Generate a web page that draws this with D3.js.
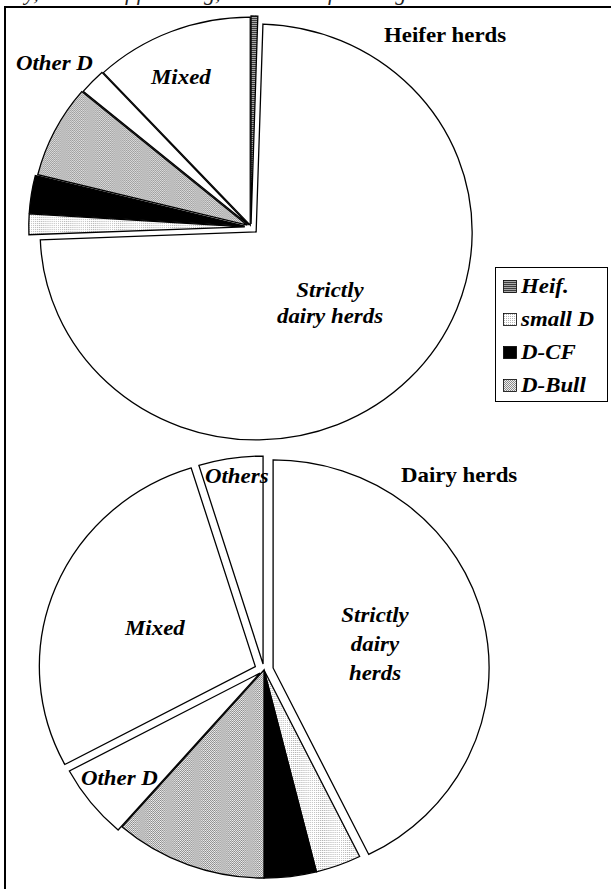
<!DOCTYPE html>
<html>
<head>
<meta charset="utf-8">
<script src="https://cdn.jsdelivr.net/npm/d3@7/dist/d3.min.js"></script>
<style>
  body { margin: 0; background: #fff; }
  svg { display: block; }
</style>
</head>
<body>
<svg width="611" height="889"></svg>
<script>
// shares (%) per herd type, clockwise from 12 o'clock
const categories = ["Heif.", "Strictly dairy herds", "small D", "D-CF", "D-Bull", "Other D", "Mixed", "Others"];
const heiferShares = [0.5, 73.9, 1.6, 2.9, 7.2, 2.0, 11.9, 0];
const dairyShares = [0, 42.7, 3.4, 3.9, 11.4, 5.8, 28.0, 4.8];
const legendItems = ["Heif.", "small D", "D-CF", "D-Bull"];
const pieTitles = ["Heifer herds", "Dairy herds"];
const captionTail = "dairy, CF = calf fattening, Bull = bull fattening.";

const serif = "Liberation Serif, DejaVu Serif, serif";

const svg = d3.select("svg");
const defs = svg.append("defs");

// fill patterns (Excel style)
function pattern(id, w, h, bg, dots) {
    const p = defs.append("pattern")
        .attr("id", id)
        .attr("patternUnits", "userSpaceOnUse")
        .attr("width", w).attr("height", h);
    p.append("rect").attr("width", w).attr("height", h).attr("fill", bg);
    dots.forEach(([x, y, pw, ph, c]) => p.append("rect")
        .attr("x", x).attr("y", y).attr("width", pw).attr("height", ph).attr("fill", c));
}
pattern("p-heif", 2, 2, "#a8a8a8", [[0, 0, 2, 1, "#3c3c3c"]]);
pattern("p-small", 2, 2, "#ffffff", [[0, 0, 1, 1, "#b4b4b4"]]);
pattern("p-bull", 2, 2, "#f0f0f0", [[0, 0, 1, 1, "#8a8a8a"], [1, 1, 1, 1, "#8a8a8a"]]);

const fills = {
    "Heif.": "url(#p-heif)",
    "Strictly dairy herds": "#fff",
    "small D": "url(#p-small)",
    "D-CF": "#000",
    "D-Bull": "url(#p-bull)",
    "Other D": "#fff",
    "Mixed": "#fff",
    "Others": "#fff"
};

// frame round the figure (right and bottom edges fall outside the crop)
svg.append("rect")
    .attr("x", 5).attr("y", 7).attr("width", 700).attr("height", 1000)
    .attr("fill", "none").attr("stroke", "#000").attr("stroke-width", 2);

// caption line above the frame, cut by the top edge as in the source
svg.append("text")
    .attr("x", -12).attr("y", -0.5)
    .style("font-family", serif)
    .style("font-size", "22px").style("font-style", "italic")
    .attr("fill", "#222")
    .text(captionTail);

const ry = 208, rx = 216;
const pie = d3.pie().sort(null).value(d => d.value);
const arc = d3.arc().innerRadius(0).outerRadius(ry);

function drawPie(values, cx, cy, explode) {
    const data = categories.map((c, i) => ({ cat: c, value: values[i] }));
    const g = svg.append("g")
        .attr("transform", `translate(${cx},${cy}) scale(${rx / ry},1)`);
    g.selectAll("path")
        .data(pie(data).filter(d => d.value > 0))
        .join("path")
        .attr("transform", d => {
            const a = (d.startAngle + d.endAngle) / 2;
            const k = explode[d.data.cat] || 0;
            return `translate(${k * Math.sin(a)},${-k * Math.cos(a)})`;
        })
        .attr("d", arc)
        .attr("fill", d => fills[d.data.cat])
        .attr("stroke", "#000")
        .attr("stroke-width", 1.3)
        .attr("stroke-linejoin", "miter")
        .attr("vector-effect", "non-scaling-stroke");
}

drawPie(heiferShares, 251, 227, {
    "Heif.": 3, "Strictly dairy herds": 7, "small D": 6, "D-CF": 6, "D-Bull": 4, "Other D": 3, "Mixed": 2
});
drawPie(dairyShares, 264, 670, {
    "Strictly dairy herds": 9, "Other D": 5, "Mixed": 9, "Others": 6
});

// labels
function label(lines, x, y, opts = {}) {
    const t = svg.append("text")
        .attr("transform", `translate(${x},${y}) scale(1.04,1)`)
        .style("font-family", serif)
        .style("font-size", "22px")
        .style("font-weight", "bold")
        .style("font-style", opts.upright ? "normal" : "italic")
        .attr("text-anchor", opts.anchor || "start");
    lines.forEach((s, i) => t.append("tspan")
        .attr("x", 0).attr("y", i * (opts.lh || 26)).text(s));
}

label([pieTitles[0]], 384, 42, { upright: true });
label(["Other D"], 16, 70);
label(["Mixed"], 151, 84);
label(["Strictly", "dairy herds"], 330, 297, { anchor: "middle", lh: 26 });

label([pieTitles[1]], 401, 482, { upright: true });
label(["Others"], 205, 483);
label(["Strictly", "dairy", "herds"], 375, 622, { anchor: "middle", lh: 29 });
label(["Mixed"], 125, 635);
label(["Other D"], 81, 785);

// legend
const lg = svg.append("g");
lg.append("rect")
    .attr("x", 495.5).attr("y", 267.5).attr("width", 112).attr("height", 134)
    .attr("fill", "#fff").attr("stroke", "#000").attr("stroke-width", 1);
const rowY = d3.scalePoint().domain(legendItems).range([293, 392]);
legendItems.forEach(name => {
    const y = rowY(name);
    lg.append("rect")
        .attr("x", 503.5).attr("y", y - 12.5).attr("width", 13).attr("height", 12)
        .attr("fill", fills[name]).attr("stroke", "#000").attr("stroke-width", 0.8);
    lg.append("text")
        .attr("transform", `translate(521,${y}) scale(1.04,1)`)
        .style("font-family", serif)
        .style("font-size", "22px")
        .style("font-weight", "bold")
        .style("font-style", "italic")
        .text(name);
});
</script>
</body>
</html>
